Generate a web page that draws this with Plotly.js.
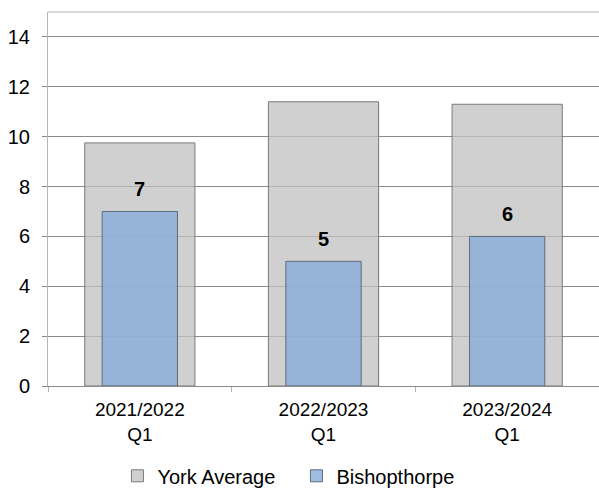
<!DOCTYPE html>
<html>
<head>
<meta charset="utf-8">
<script src="https://cdn.plot.ly/plotly-3.0.1.min.js"></script>
<style>html,body{margin:0;padding:0;background:#fff;}#chart{width:599px;height:491px;}</style>
</head>
<body>
<div id="chart"></div>
<script>
var categories = ["2021/2022<br>Q1", "2022/2023<br>Q1", "2023/2024<br>Q1"];
var yorkAverage = [9.75, 11.4, 11.3];
var bishopthorpe = [7, 5, 6];
var yTicks = [0, 2, 4, 6, 8, 10, 12, 14];

var FONT = '"Liberation Sans", Arial, sans-serif';

var traces = [
  {
    type: 'bar', name: 'York Average', x: categories, y: yorkAverage,
    width: 0.6,
    marker: {color: 'rgba(192,192,192,0.75)', line: {color: '#7a7a7a', width: 1}},
    hoverinfo: 'x+y'
  },
  {
    type: 'bar', name: 'Bishopthorpe', x: categories, y: bishopthorpe,
    width: 0.41,
    marker: {color: 'rgba(134,172,217,0.8)', line: {color: '#5f6b78', width: 1}},
    hoverinfo: 'x+y'
  }
];

var annotations = bishopthorpe.map(function (v, i) {
  return {
    x: categories[i], y: v, xref: 'x', yref: 'y',
    text: '<b>' + v + '</b>', showarrow: false,
    yanchor: 'bottom', yshift: 9,
    font: {family: FONT, size: 20, color: '#000'}
  };
});

var layout = {
  width: 599, height: 491,
  margin: {l: 48, r: 0, t: 12, b: 105, pad: 0, autoexpand: false},
  paper_bgcolor: '#fff', plot_bgcolor: '#fff',
  barmode: 'overlay',
  font: {family: FONT, size: 20, color: '#000'},
  showlegend: true,
  legend: {
    orientation: 'h', x: 0.126, xanchor: 'left', y: -0.188, yanchor: 'top',
    entrywidth: 134, entrywidthmode: 'pixels',
    font: {family: FONT, size: 20, color: '#000'},
    traceorder: 'normal', itemclick: false
  },
  xaxis: {
    type: 'category', range: [-0.5, 2.5],
    tickson: 'boundaries', ticks: 'outside', ticklen: 5, tickcolor: '#b5b5b5',
    showgrid: false, showline: true, linecolor: '#8a8a8a', linewidth: 1,
    tickfont: {family: FONT, size: 19, color: '#000'},
    ticklabelstandoff: 6, fixedrange: true
  },
  yaxis: {
    range: [0, 15], tickvals: yTicks, ticktext: yTicks.map(String),
    ticks: 'outside', ticklen: 5, tickcolor: '#8a8a8a',
    showgrid: true, gridcolor: '#8a8a8a', gridwidth: 1,
    zeroline: false, showline: true, linecolor: '#b5b5b5', linewidth: 1,
    tickfont: {family: FONT, size: 20, color: '#000'},
    ticklabelstandoff: 8, fixedrange: true
  },
  shapes: [
    {type: 'line', xref: 'paper', yref: 'paper', x0: 0, x1: 1, y0: 1, y1: 1,
     line: {color: '#b5b5b5', width: 1}}
  ],
  annotations: annotations
};

Plotly.newPlot('chart', traces, layout, {displayModeBar: false, staticPlot: true});
</script>
</body>
</html>
